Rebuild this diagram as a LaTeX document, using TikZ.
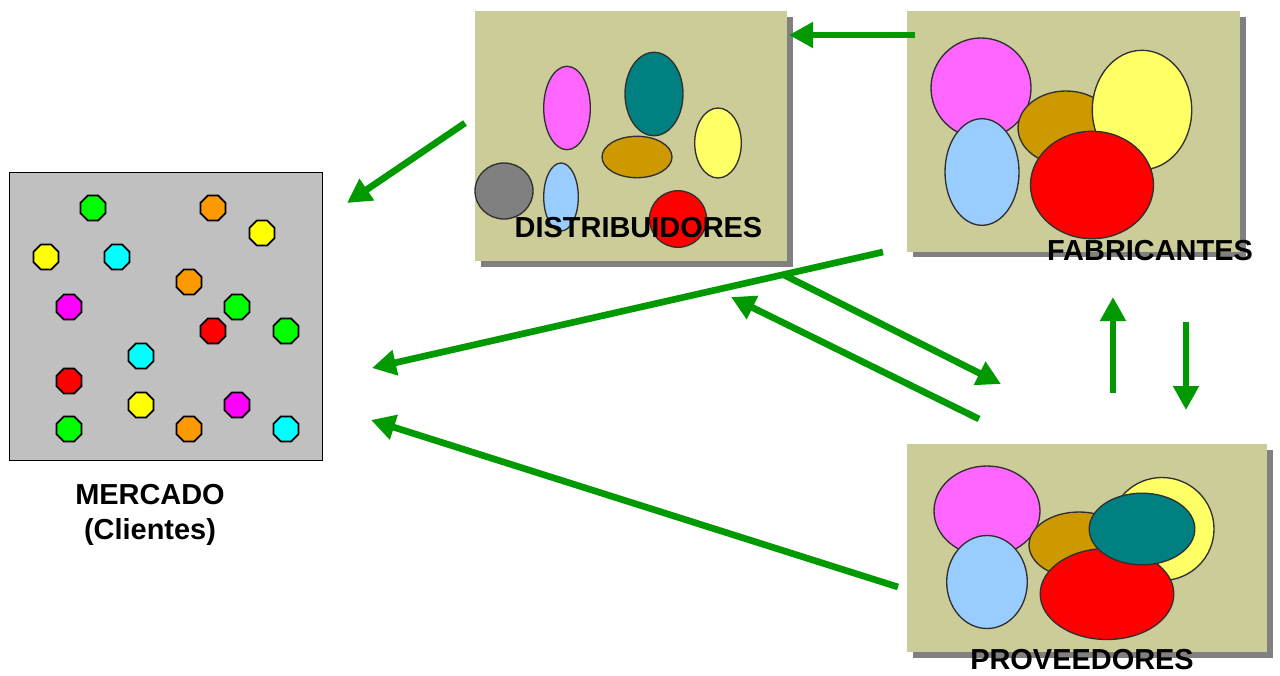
\documentclass[tikz,border=0pt]{standalone}
\usepackage{fontspec}
\setmainfont{Liberation Sans}
\usetikzlibrary{arrows.meta,shapes.geometric}
\definecolor{arrowgreen}{HTML}{009900}
\definecolor{boxtan}{HTML}{CCCC99}
\definecolor{shadowgray}{HTML}{808080}
\definecolor{marketgray}{HTML}{C0C0C0}
\definecolor{cgreen}{HTML}{00FF00}
\definecolor{corange}{HTML}{FF9900}
\definecolor{cyellow}{HTML}{FFFF00}
\definecolor{ccyan}{HTML}{00FFFF}
\definecolor{cmagenta}{HTML}{FF00FF}
\definecolor{cred}{HTML}{FF0000}
\definecolor{epink}{HTML}{FF66FF}
\definecolor{eteal}{HTML}{008080}
\definecolor{eyellow}{HTML}{FFFF66}
\definecolor{egold}{HTML}{CC9900}
\definecolor{egray}{HTML}{808080}
\definecolor{eblue}{HTML}{99CCFF}
\definecolor{ered}{HTML}{FF0000}
\definecolor{outline}{HTML}{303030}
\begin{document}
\begin{tikzpicture}[x=0.75pt,y=-0.75pt,
  oct/.style={regular polygon, regular polygon sides=8, draw=black, line width=1.3pt,
    inner sep=0pt, minimum size=20.3pt},
  blob/.style={draw=outline, line width=1pt},
  panel/.style={fill=boxtan},
  shade/.style={fill=shadowgray},
  lbl/.style={font=\fontsize{21.7}{24.75}\selectfont\bfseries, text=black, inner sep=0pt,
    text depth=0pt, anchor=base},
  flow/.style={draw=arrowgreen, line width=5pt, -{Triangle[length=18pt,width=18.5pt]}}
]
\useasboundingbox (0,0) rectangle (1280,675);

% ---------- MERCADO ----------
\node[draw=black, line width=1pt, fill=marketgray, minimum width=234.75pt, minimum height=216pt,
  inner sep=0pt, anchor=north west] (market) at (9,172) {};
\node[oct, fill=cgreen]   (o1)  at (93,208) {};
\node[oct, fill=corange]  (o2)  at (213,208) {};
\node[oct, fill=cyellow]  (o3)  at (262,233) {};
\node[oct, fill=cyellow]  (o4)  at (46,257) {};
\node[oct, fill=ccyan]    (o5)  at (117,257) {};
\node[oct, fill=corange]  (o6)  at (189,282) {};
\node[oct, fill=cmagenta] (o7)  at (69,307) {};
\node[oct, fill=cgreen]   (o8)  at (237,307) {};
\node[oct, fill=cred]     (o9)  at (213,331) {};
\node[oct, fill=cgreen]   (o10) at (286,331) {};
\node[oct, fill=ccyan]    (o11) at (141,356) {};
\node[oct, fill=cred]     (o12) at (69,381) {};
\node[oct, fill=cyellow]  (o13) at (141,405) {};
\node[oct, fill=cmagenta] (o14) at (237,405) {};
\node[oct, fill=cgreen]   (o15) at (69,429) {};
\node[oct, fill=corange]  (o16) at (189,429) {};
\node[oct, fill=ccyan]    (o17) at (286,429) {};
\node[lbl] (mercado) at (150,504) {MERCADO};
\node[lbl] (clientes) at (150,539) {(Clientes)};

% ---------- DISTRIBUIDORES ----------
\fill[shade] (481,17) rectangle (793,267);
\fill[panel] (475,11) rectangle (787,261);
\draw[blob, fill=epink]  (567,108) ellipse [x radius=23.3, y radius=41.7];
\draw[blob, fill=eteal]  (654,94)  ellipse [x radius=29, y radius=41.7];
\draw[blob, fill=eyellow] (718,143) ellipse [x radius=23.3, y radius=35];
\draw[blob, fill=egold]  (637,157) ellipse [x radius=35, y radius=20.7];
\draw[blob, fill=egray]  (504,191) ellipse [x radius=29, y radius=28];
\draw[blob, fill=eblue]  (561,197) ellipse [x radius=17.3, y radius=34];
\draw[blob, fill=ered]   (678,219) ellipse [x radius=28.5, y radius=28.3];
\node[lbl] (distlbl) at (638.5,237) {DISTRIBUIDORES};

% ---------- FABRICANTES ----------
\fill[shade] (913,17) rectangle (1246,257);
\fill[panel] (907,11) rectangle (1240,252);
\draw[blob, fill=epink]   (981,88)   ellipse [x radius=50, y radius=50];
\draw[blob, fill=egold]   (1066,128) ellipse [x radius=48, y radius=37];
\draw[blob, fill=eyellow] (1142,110) ellipse [x radius=49.7, y radius=59.7];
\draw[blob, fill=eblue]   (982,172)  ellipse [x radius=37, y radius=53.3];
\draw[blob, fill=ered]    (1092,185) ellipse [x radius=61.5, y radius=53.7];
\node[lbl] (fablbl) at (1150,260) {FABRICANTES};

% ---------- PROVEEDORES ----------
\fill[shade] (913,450) rectangle (1273,658);
\fill[panel] (907,444) rectangle (1267,652);
\draw[blob, fill=epink]   (987,511)  ellipse [x radius=53, y radius=45];
\draw[blob, fill=eblue]   (987,582)  ellipse [x radius=40.3, y radius=46.5];
\draw[blob, fill=egold]   (1079,545) ellipse [x radius=50, y radius=33];
\draw[blob, fill=eyellow] (1162,529) ellipse [x radius=52, y radius=51.5];
\draw[blob, fill=ered]    (1107,594) ellipse [x radius=66.8, y radius=45.5];
\draw[blob, fill=eteal]   (1142,529) ellipse [x radius=52.8, y radius=35.8];
\node[lbl] (provlbl) at (1082,669) {PROVEEDORES};

% ---------- connectors ----------
\coordinate (a1s) at (915,35);   \coordinate (a1e) at (789,35);
\coordinate (a2s) at (465,123);  \coordinate (a2e) at (347,203);
\coordinate (a3s) at (883,252);  \coordinate (a3e) at (372,368);
\coordinate (a4s) at (782,274);  \coordinate (a4e) at (1001,384);
\coordinate (a5s) at (979,419);  \coordinate (a5e) at (731,297);
\coordinate (a6s) at (898,587);  \coordinate (a6e) at (371,420);
\coordinate (a7s) at (1113,393); \coordinate (a7e) at (1113,297);
\coordinate (a8s) at (1186,322); \coordinate (a8e) at (1186,410);
\draw[flow] (a1s) -- (a1e);
\draw[flow] (a2s) -- (a2e);
\draw[flow] (a3s) -- (a3e);
\draw[flow] (a4s) -- (a4e);
\draw[flow] (a5s) -- (a5e);
\draw[flow] (a6s) -- (a6e);
\draw[flow] (a7s) -- (a7e);
\draw[flow] (a8s) -- (a8e);
\end{tikzpicture}
\end{document}
